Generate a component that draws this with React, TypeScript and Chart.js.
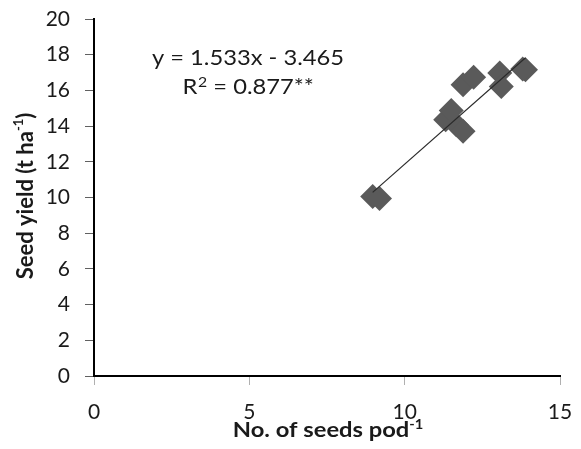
import React, { useEffect, useRef } from "react";
import { Chart, registerables } from "chart.js";

Chart.register(...registerables);

const seedsPerPod = [8.97, 9.19, 11.32, 11.5, 11.66, 11.88, 11.88, 12.22, 13.06, 13.11, 13.89, 13.8];
const seedYield = [10.06, 9.94, 14.36, 14.88, 14.08, 13.71, 16.31, 16.74, 16.97, 16.22, 17.15, 17.2];
const slope = 1.533;
const intercept = -3.465;
const equationText = "y = 1.533x - 3.465";
const r2Parts = ["R", "2", " = 0.877**"];
const xTitle = "No. of seeds pod";
const yTitle = "Seed yield (t ha";
const sup = "-1";

const FONT = "Lato, 'Open Sans', sans-serif";
const STRETCH = 1.13;

const textPlugin = {
  id: "texts",
  afterDraw(chart: any) {
    const ctx = chart.ctx;
    ctx.save();
    ctx.fillStyle = "#1a1a1a";
    // equation
    const eqFont = `21px ${FONT}`;
    const eqSup = `14px ${FONT}`;
    ctx.font = eqFont;
    ctx.textAlign = "center";
    ctx.textBaseline = "middle";
    ctx.save();
    ctx.translate(248, 58);
    ctx.scale(STRETCH, 1);
    ctx.fillText(equationText, 0, 0);
    ctx.restore();

    ctx.save();
    ctx.translate(248, 87);
    ctx.scale(STRETCH, 1);
    ctx.textAlign = "left";
    ctx.font = eqFont;
    const wR = ctx.measureText(r2Parts[0]).width;
    const wRest = ctx.measureText(r2Parts[2]).width;
    ctx.font = eqSup;
    const w2 = ctx.measureText(r2Parts[1]).width;
    const start = -(wR + w2 + wRest) / 2;
    ctx.font = eqFont;
    ctx.fillText(r2Parts[0], start, 0);
    ctx.font = eqSup;
    ctx.fillText(r2Parts[1], start + wR + 0.5, -5);
    ctx.font = eqFont;
    ctx.fillText(r2Parts[2], start + wR + w2 + 0.5, 0);
    ctx.restore();

    // x title with superscript
    const mainFont = `bold 21px ${FONT}`;
    const supFont = `bold 13px ${FONT}`;
    ctx.font = mainFont;
    const w1 = ctx.measureText(xTitle).width;
    ctx.font = supFont;
    const ws = ctx.measureText(sup).width;
    ctx.save();
    ctx.translate(328, 437);
    ctx.scale(STRETCH, 1);
    const x0 = -(w1 + ws) / 2;
    ctx.textAlign = "left";
    ctx.textBaseline = "alphabetic";
    ctx.font = mainFont;
    ctx.fillText(xTitle, x0, 0);
    ctx.font = supFont;
    ctx.fillText(sup, x0 + w1, -8);
    ctx.restore();

    // y title rotated
    const yFont = `bold 22px ${FONT}`;
    const ySup = `bold 13px ${FONT}`;
    ctx.save();
    ctx.translate(26, 196);
    ctx.rotate(-Math.PI / 2);
    ctx.scale(1, 1.05);
    ctx.font = yFont;
    const wy = ctx.measureText(yTitle).width;
    const wpm = ctx.measureText(")").width;
    ctx.font = ySup;
    const wsy = ctx.measureText(sup).width;
    const total = wy + wsy + wpm;
    const sx = -total / 2;
    ctx.textAlign = "left";
    ctx.textBaseline = "middle";
    ctx.font = yFont;
    ctx.fillText(yTitle, sx, 0);
    ctx.font = ySup;
    ctx.fillText(sup, sx + wy, -7);
    ctx.font = yFont;
    ctx.fillText(")", sx + wy + wsy, 0);
    ctx.restore();
    ctx.restore();
  },
};

const noPad = (s: any) => {
  s.paddingTop = 0;
  s.paddingBottom = 0;
  s.paddingLeft = 0;
  s.paddingRight = 0;
};

export default function App() {
  const ref = useRef<HTMLCanvasElement | null>(null);
  useEffect(() => {
    if (!ref.current) return;
    const pts = seedsPerPod.map((x, i) => ({ x, y: seedYield[i] }));
    const xMin = Math.min(...seedsPerPod);
    const xMax = Math.max(...seedsPerPod);
    const trend = [
      { x: xMin, y: slope * xMin + intercept },
      { x: xMax, y: slope * xMax + intercept },
    ];
    const chart = new Chart(ref.current, {
      type: "scatter",
      data: {
        datasets: [
          {
            type: "line",
            data: trend,
            borderColor: "#2a2a2a",
            borderWidth: 1.2,
            pointRadius: 0,
            showLine: true,
            order: 0,
          } as any,
          {
            data: pts,
            pointStyle: "rectRot",
            pointRadius: 12.5,
            backgroundColor: "#5a5a5a",
            borderColor: "#5a5a5a",
            borderWidth: 0,
            order: 1,
          },
        ],
      },
      options: {
        responsive: false,
        animation: false,
        layout: { padding: { top: 19, right: 21, left: 0, bottom: 0 } },
        plugins: { legend: { display: false }, tooltip: { enabled: false } },
        scales: {
          x: {
            type: "linear",
            min: 0,
            max: 15,
            ticks: { stepSize: 5, color: "#1a1a1a", font: { family: FONT, size: 21 }, padding: 15 },
            grid: { drawOnChartArea: false, drawTicks: true, tickLength: 9, color: "#b0b0b0", tickColor: "#b0b0b0" },
            border: { display: true, color: "#000000", width: 2 },
            afterFit: (s: any) => { s.height = 73; noPad(s); },
          },
          y: {
            type: "linear",
            min: 0,
            max: 20,
            ticks: { stepSize: 2, color: "#1a1a1a", font: { family: FONT, size: 21 }, padding: 15 },
            grid: { drawOnChartArea: false, drawTicks: true, tickLength: 9, color: "#606060", tickColor: "#606060" },
            border: { display: true, color: "#000000", width: 2 },
            afterFit: (s: any) => { s.width = 94; noPad(s); },
          },
        },
      },
      plugins: [textPlugin],
    });
    return () => chart.destroy();
  }, []);
  return (
    <div style={{ position: "absolute", left: 0, top: 0, width: 581, height: 449, background: "#fff" }}>
      <canvas ref={ref} width={581} height={449} style={{ display: "block" }} />
    </div>
  );
}
